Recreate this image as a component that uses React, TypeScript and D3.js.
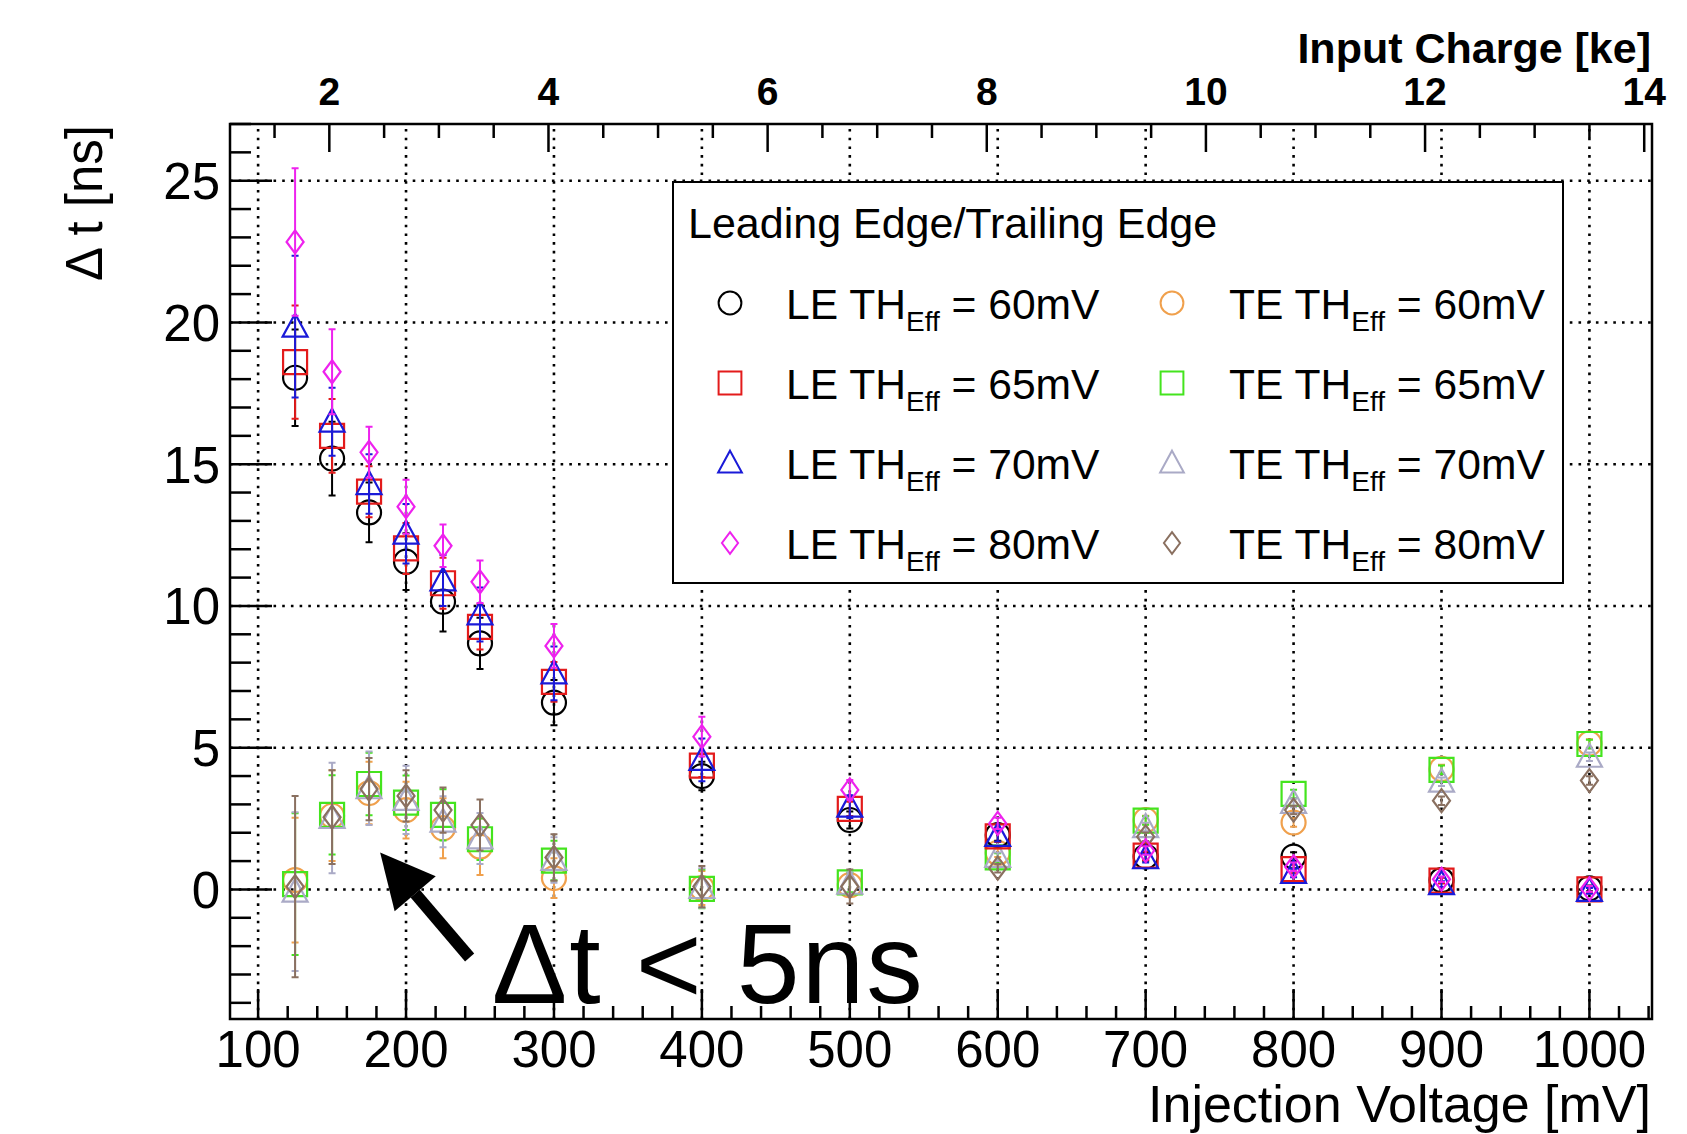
import { useEffect, useRef } from 'react';
import * as d3 from 'd3';

const WIDTH = 1687;
const HEIGHT = 1134;
const FONT = '"Liberation Sans", Arial, Helvetica, sans-serif';

// injection voltages [mV]
const voltages = [125, 150, 175, 200, 225, 250, 300, 400, 500, 600, 700, 800, 900, 1000];

// leading edge, delta t [ns]
const le60 = [18.05, 15.2, 13.3, 11.56, 10.15, 8.68, 6.59, 4.0, 2.45, 1.92, 1.16, 1.16, 0.33, 0.04];
const le60Err = [1.7, 1.3, 1.05, 1.0, 1.05, 0.9, 0.8, 0.5, 0.3, 0.2, 0.15, 0.15, 0.1, 0.1];
const le65 = [18.6, 16.0, 14.03, 12.03, 10.8, 9.26, 7.32, 4.37, 2.84, 1.87, 1.19, 0.72, 0.31, 0.0];
const le65Err = [2.0, 1.3, 0.9, 0.9, 0.9, 0.8, 0.7, 0.4, 0.25, 0.2, 0.15, 0.15, 0.1, 0.1];
const le70 = [19.85, 16.5, 14.3, 12.55, 10.9, 9.7, 7.62, 4.57, 2.92, 1.89, 1.1, 0.58, 0.19, -0.05];
const le70Err = [2.5, 1.2, 1.05, 1.05, 0.9, 0.95, 0.95, 0.75, 0.4, 0.2, 0.15, 0.15, 0.1, 0.1];
const le80 = [22.84, 18.26, 15.42, 13.5, 12.12, 10.85, 8.59, 5.39, 3.51, 2.33, 1.37, 0.8, 0.36, 0.02];
const le80Err = [2.6, 1.5, 0.9, 0.95, 0.75, 0.75, 0.77, 0.7, 0.35, 0.2, 0.15, 0.15, 0.1, 0.1];

// trailing edge, delta t [ns]
const te60 = [0.33, 2.6, 3.4, 2.8, 2.16, 1.51, 0.4, 0.05, 0.15, 1.29, 2.45, 2.36, 4.25, 5.15];
const te60Err = [2.2, 1.6, 1.1, 1.0, 1.06, 1.0, 0.7, 0.6, 0.4, 0.15, 0.15, 0.15, 0.15, 0.15];
const te65 = [0.19, 2.63, 3.72, 3.06, 2.63, 1.77, 1.02, 0.02, 0.25, 1.13, 2.43, 3.37, 4.22, 5.13];
const te65Err = [2.5, 1.4, 1.1, 0.96, 0.9, 0.73, 0.7, 0.68, 0.35, 0.15, 0.15, 0.15, 0.15, 0.15];
const te70 = [-0.08, 2.52, 3.57, 3.16, 2.39, 1.8, 1.04, 0.05, 0.2, 1.15, 2.2, 3.05, 3.8, 4.68];
const te70Err = [2.8, 1.95, 1.3, 1.2, 0.9, 0.9, 0.8, 0.7, 0.4, 0.15, 0.15, 0.15, 0.15, 0.15];
const te80 = [0.1, 2.55, 3.54, 3.3, 2.8, 2.27, 1.13, 0.1, 0.1, 0.75, 1.86, 2.8, 3.13, 3.84];
const te80Err = [3.2, 1.65, 1.1, 0.9, 0.8, 0.9, 0.82, 0.73, 0.6, 0.15, 0.15, 0.15, 0.15, 0.15];

const xTicks = [100, 200, 300, 400, 500, 600, 700, 800, 900, 1000];
const yTicks = [0, 5, 10, 15, 20, 25];
const chargeTicks = [2, 4, 6, 8, 10, 12, 14];
const KE_PER_MV = 0.0135;

const leSeries = [
  { label: 'LE', th: '60mV', values: le60, errors: le60Err, color: '#000000', shape: 'circle' },
  { label: 'LE', th: '65mV', values: le65, errors: le65Err, color: '#e31b1b', shape: 'square' },
  { label: 'LE', th: '70mV', values: le70, errors: le70Err, color: '#1a1ad8', shape: 'triangle' },
  { label: 'LE', th: '80mV', values: le80, errors: le80Err, color: '#ee22ee', shape: 'diamond' },
];
const teSeries = [
  { label: 'TE', th: '60mV', values: te60, errors: te60Err, color: '#f0a04c', shape: 'circle' },
  { label: 'TE', th: '65mV', values: te65, errors: te65Err, color: '#44e41e', shape: 'square' },
  { label: 'TE', th: '70mV', values: te70, errors: te70Err, color: '#aaaac6', shape: 'triangle' },
  { label: 'TE', th: '80mV', values: te80, errors: te80Err, color: '#8a7060', shape: 'diamond' },
];

// annotation, in data coordinates
const arrowTip = [182.5, 1.3];
const arrowTail = [243, -2.4];
const noteText = 'Δt < 5ns';
const notePos = [258, -4.0];

const markerPath = (shape, s = 1) => {
  if (shape === 'circle') {
    const r = 12 * s;
    return `M${-r},0A${r},${r} 0 1,0 ${r},0A${r},${r} 0 1,0 ${-r},0Z`;
  }
  if (shape === 'square') {
    const h = 12 * s;
    return `M${-h},${-h}H${h}V${h}H${-h}Z`;
  }
  if (shape === 'triangle') {
    return `M0,${-13 * s}L${12.5 * s},${10 * s}H${-12.5 * s}Z`;
  }
  return `M0,${-11.5 * s}L${8.5 * s},0L0,${11.5 * s}L${-8.5 * s},0Z`;
};

const App = () => {
  const svgRef = useRef(null);

  useEffect(() => {
    document.body.style.margin = '0';
    document.body.style.overflow = 'hidden';

    const left = 230, right = 1652, top = 124, bottom = 1019;

    const svg = d3.select(svgRef.current);
    svg.selectAll('*').remove();

    const x = d3.scaleLinear().domain([81, 1042.3]).range([left, right]);
    const y = d3.scaleLinear().domain([-4.57, 27.0]).range([bottom, top]);
    const xc = d3.scaleLinear()
      .domain([81 * KE_PER_MV, 1042.3 * KE_PER_MV])
      .range([left, right]);

    svg.append('rect').attr('width', WIDTH).attr('height', HEIGHT).attr('fill', '#fff');

    // dotted grid
    const grid = svg.append('g')
      .attr('stroke', '#000')
      .attr('stroke-width', 2.6)
      .attr('stroke-dasharray', '2.6 6.1');
    grid.selectAll('.vg').data(xTicks).enter().append('line')
      .attr('x1', d => x(d)).attr('x2', d => x(d))
      .attr('y1', bottom).attr('y2', top);
    grid.selectAll('.hg').data(yTicks).enter().append('line')
      .attr('x1', left).attr('x2', right)
      .attr('y1', d => y(d)).attr('y2', d => y(d));

    // legend box (drawn over grid)
    const lg = svg.append('g');
    lg.append('rect')
      .attr('x', 673).attr('y', 182)
      .attr('width', 890).attr('height', 401)
      .attr('fill', '#fff').attr('stroke', '#000').attr('stroke-width', 2);
    lg.append('text')
      .attr('x', 688).attr('y', 238)
      .attr('font-family', FONT).attr('font-size', 43)
      .text('Leading Edge/Trailing Edge');

    const rows = [303, 383, 463, 543];
    const cols = [{ m: 730, t: 786, s: leSeries }, { m: 1172, t: 1229, s: teSeries }];
    cols.forEach(col => {
      col.s.forEach((s, i) => {
        lg.append('path')
          .attr('d', markerPath(s.shape, 0.95))
          .attr('transform', `translate(${col.m},${rows[i]})`)
          .attr('fill', 'none').attr('stroke', s.color).attr('stroke-width', 2);
        const t = lg.append('text')
          .attr('x', col.t).attr('y', rows[i] + 16)
          .attr('font-family', FONT).attr('font-size', 42.6)
          .style('white-space', 'pre');
        t.append('tspan').text(`${s.label} TH`);
        t.append('tspan').attr('font-size', 28).attr('dy', 12).text('Eff');
        t.append('tspan').attr('dy', -12).text(` = ${s.th}`);
      });
    });

    // data: error bars then markers
    const drawSeries = s => {
      const g = svg.append('g');
      const pts = voltages.map((v, i) => ({ v, t: s.values[i], e: s.errors[i] }));
      g.selectAll('.eb').data(pts).enter().append('path')
        .attr('d', d => {
          const cx = x(d.v), y0 = y(d.t - d.e), y1 = y(d.t + d.e);
          return `M${cx},${y0}V${y1}M${cx - 3.5},${y0}H${cx + 3.5}M${cx - 3.5},${y1}H${cx + 3.5}`;
        })
        .attr('fill', 'none').attr('stroke', s.color).attr('stroke-width', 2);
      g.selectAll('.mk').data(pts).enter().append('path')
        .attr('d', markerPath(s.shape))
        .attr('transform', d => `translate(${x(d.v)},${y(d.t)})`)
        .attr('fill', 'none').attr('stroke', s.color).attr('stroke-width', 2.2);
    };
    teSeries.forEach(drawSeries);
    leSeries.forEach(drawSeries);

    // frame and ticks
    const axes = svg.append('g').attr('stroke', '#000').attr('stroke-width', 2.5);
    axes.append('rect')
      .attr('x', left).attr('y', top)
      .attr('width', right - left).attr('height', bottom - top)
      .attr('fill', 'none');

    const xMinor = d3.range(100, 1043, 20).filter(v => v % 100 !== 0 && v <= 1042.3);
    axes.selectAll('.xmin').data(xMinor).enter().append('line')
      .attr('x1', d => x(d)).attr('x2', d => x(d))
      .attr('y1', bottom).attr('y2', bottom - 13);
    axes.selectAll('.xmaj').data(xTicks).enter().append('line')
      .attr('x1', d => x(d)).attr('x2', d => x(d))
      .attr('y1', bottom).attr('y2', bottom - 30);

    const yMinor = d3.range(-4, 28, 1).filter(v => v % 5 !== 0);
    axes.selectAll('.ymin').data(yMinor).enter().append('line')
      .attr('x1', left).attr('x2', left + 21)
      .attr('y1', d => y(d)).attr('y2', d => y(d));
    axes.selectAll('.ymaj').data(yTicks).enter().append('line')
      .attr('x1', left).attr('x2', left + 42)
      .attr('y1', d => y(d)).attr('y2', d => y(d));

    const cMinor = d3.range(1.5, 14.1, 0.5).filter(v => v % 2 !== 0);
    axes.selectAll('.cmin').data(cMinor).enter().append('line')
      .attr('x1', d => xc(d)).attr('x2', d => xc(d))
      .attr('y1', top).attr('y2', top + 14);
    axes.selectAll('.cmaj').data(chargeTicks).enter().append('line')
      .attr('x1', d => xc(d)).attr('x2', d => xc(d))
      .attr('y1', top).attr('y2', top + 28);

    // tick labels
    svg.append('g').selectAll('text').data(xTicks).enter().append('text')
      .attr('x', d => x(d)).attr('y', 1067)
      .attr('text-anchor', 'middle')
      .attr('font-family', FONT).attr('font-size', 51)
      .text(d => d);
    svg.append('g').selectAll('text').data(yTicks).enter().append('text')
      .attr('x', 220).attr('y', d => y(d)).attr('dy', '0.36em')
      .attr('text-anchor', 'end')
      .attr('font-family', FONT).attr('font-size', 51)
      .text(d => d);
    svg.append('g').selectAll('text').data(chargeTicks).enter().append('text')
      .attr('x', d => xc(d)).attr('y', 105)
      .attr('text-anchor', 'middle')
      .attr('font-family', FONT).attr('font-size', 39).attr('font-weight', 'bold')
      .text(d => d);

    // axis titles
    svg.append('text')
      .attr('x', 1651).attr('y', 1122)
      .attr('text-anchor', 'end')
      .attr('font-family', FONT).attr('font-size', 52)
      .text('Injection Voltage [mV]');
    svg.append('text')
      .attr('x', 1651).attr('y', 63)
      .attr('text-anchor', 'end')
      .attr('font-family', FONT).attr('font-size', 43).attr('font-weight', 'bold')
      .text('Input Charge [ke]');
    svg.append('text')
      .attr('transform', 'translate(102,125) rotate(-90)')
      .attr('text-anchor', 'end')
      .attr('font-family', FONT).attr('font-size', 51)
      .style('white-space', 'pre')
      .text('Δ t [ns]');

    // annotation arrow + text
    const tx = x(arrowTip[0]), ty = y(arrowTip[1]);
    const sx = x(arrowTail[0]), sy = y(arrowTail[1]);
    const ang = Math.atan2(sy - ty, sx - tx);
    const headLen = 54, headHalf = 27;
    const bx = tx + headLen * Math.cos(ang), by = ty + headLen * Math.sin(ang);
    const px = -Math.sin(ang), py = Math.cos(ang);
    svg.append('line')
      .attr('x1', bx).attr('y1', by).attr('x2', sx).attr('y2', sy)
      .attr('stroke', '#000').attr('stroke-width', 12);
    svg.append('path')
      .attr('d', `M${tx},${ty}L${bx + headHalf * px},${by + headHalf * py}L${bx - headHalf * px},${by - headHalf * py}Z`)
      .attr('fill', '#000');
    svg.append('text')
      .attr('x', x(notePos[0])).attr('y', y(notePos[1]))
      .attr('font-family', FONT).attr('font-size', 113)
      .attr('textLength', 431).attr('lengthAdjust', 'spacing')
      .style('white-space', 'pre')
      .text(noteText);
  }, []);

  return <svg ref={svgRef} width={WIDTH} height={HEIGHT} style={{ display: 'block' }} />;
};

export default App;
